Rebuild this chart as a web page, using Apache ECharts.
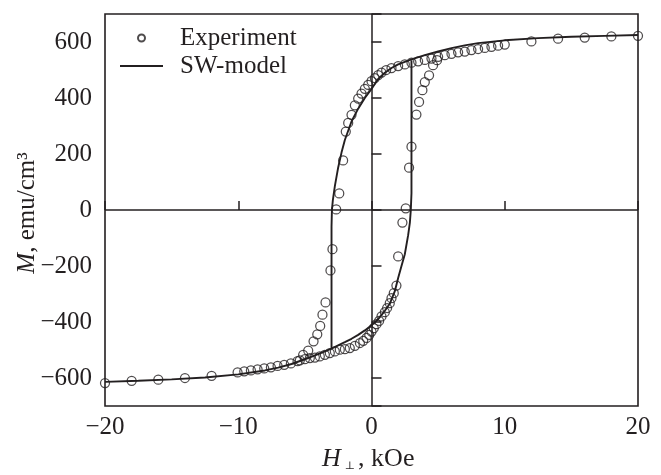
<!DOCTYPE html>
<html><head><meta charset="utf-8">
<script src="https://cdn.jsdelivr.net/npm/echarts@6/dist/echarts.min.js"></script>
<style>html,body{margin:0;padding:0;background:#fff}#c{width:661px;height:475px}</style>
</head><body><div id="c"></div>
<script>
// Experiment: field sweep from +20 down to -20 kOe
const downH = [20,18,16,14,12,10,9.5,9,8.5,8,7.5,7,6.5,6,5.5,5,4.5,4,3.5,3,2.5,2,1.5,1.1,0.75,0.5,0.25,0,-0.25,-0.5,-0.75,-1,-1.25,-1.5,-1.75,-1.93,-2.13,-2.42,-2.65,-2.93,-3.08,-3.45,-3.68,-3.85,-4.07,-4.35,-4.75,-5.13,-5.55,-6.05,-6.55,-7.05,-7.55,-8.05,-8.55,-9.05,-9.55,-10.05,-12,-14,-16,-18,-20];
const downM = [622,620,616,612,602,591,587,583,579,575,571,566,563,558,553,547,541,536,531,526,520,514,507,500,491,482,471,460,447,433,416,398,374,340,311,280,177,59,2,-140,-216,-330,-374,-414,-444,-469,-502,-517,-540,-548,-553,-557,-562,-566,-569,-573,-576,-580,-592,-600,-606,-610,-618];
// Experiment: field sweep from -20 back up (points not covered by the first sweep)
const upH = [-5.38,-5.0,-4.63,-4.25,-3.88,-3.5,-3.13,-2.75,-2.38,-2.0,-1.63,-1.25,-0.87,-0.62,-0.37,-0.17,0,0.17,0.37,0.57,0.75,1.0,1.17,1.37,1.5,1.67,1.87,2.0,2.32,2.57,2.82,3.0,3.37,3.57,3.82,4.0,4.32,4.62,4.92];
const upM = [-537,-533,-529,-527,-523,-517,-511,-505,-499,-497,-493,-485,-475,-467,-457,-446,-434,-422,-408,-396,-380,-365,-350,-333,-315,-297,-270,-166,-45,6,151,226,341,386,428,457,481,517,535];
// SW-model, descending branch
const swDownH = [20,17.5,15,12.5,10,8,7,6,5,4,3,2,1.5,1,0.5,0,-0.5,-1,-1.5,-2,-2.25,-2.5,-2.75,-2.9,-2.97,-3.0,-3.0];
const swDownM = [625,622,619,614,606,596,588,578,566,553,538,520,507,490,468,432,400,362,316,250,205,152,85,35,0,-60,-495];
// SW-model, ascending branch
const swUpH = [-20,-17.5,-15,-12.5,-10,-8,-7,-6,-5,-4,-3,-2,-1.5,-1,-0.5,0,0.5,1,1.37,1.75,2,2.25,2.5,2.75,2.88,2.95,3.0,3.0];
const swUpM = [-614,-610,-605,-598,-587,-573,-563,-550,-533,-515,-495,-472,-460,-446,-430,-412,-390,-360,-335,-290,-243,-200,-158,-90,-45,0,60,535];

const xTickValues = [-20,-10,0,10,20];
const yTickValues = [-600,-400,-200,0,200,400,600];

const zip = (a, b) => a.map((v, i) => [v, b[i]]);
const ink = '#231f20';
const serif = "'Liberation Serif','Times New Roman',serif";
const fmt = v => (v < 0 ? '\u2212' + Math.abs(v) : String(v));

const chart = echarts.init(document.getElementById('c'), null, {renderer: 'canvas'});
chart.setOption({
  animation: false,
  backgroundColor: '#fff',
  grid: {left: 105, right: 23, top: 14, bottom: 69, show: true, borderColor: ink, borderWidth: 1.6, containLabel: false},
  legend: {
    orient: 'vertical', left: 120, top: 25.5, padding: 0, itemWidth: 43, itemHeight: 7, itemGap: 3,
    data: [{name: 'Experiment'}, {name: 'SW-model', icon: 'path://M0,0H43V1.8H0Z'}],
    textStyle: {fontFamily: serif, fontSize: 25, color: ink, padding: [0, 0, 0, 12]}
  },
  xAxis: {
    type: 'value', min: -20, max: 20, interval: 10,
    axisLine: {show: false},
    axisTick: {show: true, inside: true, length: 9, lineStyle: {color: ink, width: 1.5}},
    axisLabel: {fontFamily: serif, fontSize: 25, color: ink, margin: 9,
      formatter: v => xTickValues.includes(v) ? fmt(v) : ''},
    splitLine: {show: false}
  },
  yAxis: {
    type: 'value', min: -700, max: 700, splitNumber: 7,
    axisLine: {show: false},
    axisTick: {show: true, inside: true, length: 10, lineStyle: {color: ink, width: 1.5}},
    axisLabel: {fontFamily: serif, fontSize: 25, color: ink, margin: 13,
      formatter: v => yTickValues.includes(v) ? fmt(v) : ''},
    splitLine: {show: false}
  },
  series: [
    {
      name: 'SW-model', type: 'line', data: zip(swDownH, swDownM), showSymbol: false, symbol: 'none',
      lineStyle: {color: ink, width: 1.9}, itemStyle: {color: ink}, z: 2,
      markLine: {
        silent: true, symbol: ['none', 'none'], label: {show: false},
        lineStyle: {color: ink, width: 1.5, type: 'solid'},
        data: [{xAxis: 0}, {yAxis: 0}]
      }
    },
    {
      name: 'SW-model', type: 'line', data: zip(swUpH, swUpM), showSymbol: false, symbol: 'none',
      lineStyle: {color: ink, width: 1.9}, itemStyle: {color: ink}, z: 2
    },
    {
      name: 'Experiment', type: 'scatter', data: zip(downH, downM).concat(zip(upH, upM)),
      symbol: 'circle', symbolSize: 9,
      itemStyle: {color: 'rgba(255,255,255,0)', borderColor: ink, borderWidth: 1.25}, z: 3
    }
  ],
  graphic: [
    {
      type: 'text', x: 322, y: 459,
      style: {
        text: '{i|H}{s|\u22A5}{n|, kOe}',
        verticalAlign: 'middle', align: 'left',
        rich: {
          i: {fontFamily: serif, fontStyle: 'italic', fontSize: 26, fill: ink, color: ink},
          s: {fontFamily: "'DejaVu Serif',serif", fontSize: 11, fill: ink, color: ink, padding: [14, 3, 0, 4]},
          n: {fontFamily: serif, fontSize: 26, fill: ink, color: ink}
        }
      }
    },
    {
      type: 'text', x: 27, y: 213, rotation: Math.PI / 2,
      style: {
        text: '{i|M}{n|, emu/cm\u00B3}',
        align: 'center', verticalAlign: 'middle',
        rich: {
          i: {fontFamily: serif, fontStyle: 'italic', fontSize: 25, fill: ink, color: ink},
          n: {fontFamily: serif, fontSize: 25, fill: ink, color: ink}
        }
      }
    }
  ]
});
</script></body></html>
